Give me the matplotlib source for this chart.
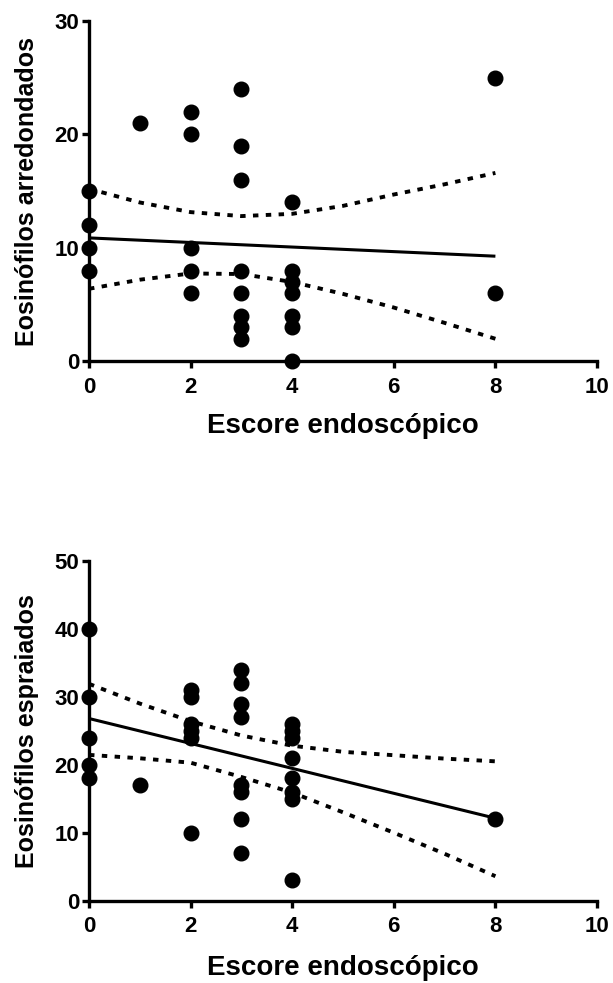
import matplotlib
matplotlib.use("Agg")
import matplotlib.pyplot as plt

plt.rcParams["font.family"] = ["Liberation Sans", "DejaVu Sans"]
plt.rcParams["font.weight"] = "bold"

# --- painel superior: eosinófilos arredondados ---
top_x = [0, 0, 0, 0,
         1,
         2, 2, 2, 2, 2,
         3, 3, 3, 3, 3, 3, 3, 3,
         4, 4, 4, 4, 4, 4, 4,
         8, 8]
top_y = [15, 12, 10, 8,
         21,
         22, 20, 10, 8, 6,
         24, 19, 16, 8, 6, 4, 3, 2,
         14, 8, 7, 6, 4, 3, 0,
         25, 6]
top_fit_x = [0, 8]
top_fit_y = [10.88, 9.27]
band_x = [0, 1, 2, 3, 4, 5, 6, 7, 8]
top_hi = [15.2, 14.0, 13.15, 12.8, 13.0, 13.7, 14.7, 15.6, 16.6]
top_lo = [6.4, 7.2, 7.75, 7.7, 7.0, 5.95, 4.75, 3.4, 2.0]

# --- painel inferior: eosinófilos espraiados ---
bot_x = [0, 0, 0, 0, 0,
         1,
         2, 2, 2, 2, 2, 2,
         3, 3, 3, 3, 3, 3, 3, 3,
         4, 4, 4, 4, 4, 4, 4, 4,
         8]
bot_y = [40, 30, 24, 20, 18,
         17,
         31, 30, 26, 25, 24, 10,
         34, 32, 29, 27, 17, 16, 12, 7,
         26, 25, 24, 21, 18, 16, 15, 3,
         12]
bot_fit_x = [0, 8]
bot_fit_y = [26.8, 12.13]
bot_hi = [31.9, 29.0, 26.4, 24.3, 22.8, 21.9, 21.4, 20.9, 20.5]
bot_lo = [21.45, 20.95, 20.3, 18.2, 15.9, 13.0, 10.0, 6.9, 3.6]

XLABEL = "Escore endoscópico"


def panel(ax, xs, ys, fx, fy, hi, lo, ymax, ystep, ylabel, xlab_y):
    ax.plot(fx, fy, color="black", lw=2.2, solid_capstyle="butt", zorder=3)
    for band in (hi, lo):
        ax.plot(band_x, band, color="black", lw=2.8, linestyle=(0, (1.4, 1.9)),
                dash_capstyle="butt", zorder=3)
    ax.plot(xs, ys, "o", color="black", ms=10.5, clip_on=False, zorder=5)
    ax.set_xlim(0, 10)
    ax.set_ylim(0, ymax)
    ax.set_xticks(range(0, 11, 2))
    ax.set_yticks(range(0, ymax + 1, ystep))
    for s in ("top", "right"):
        ax.spines[s].set_visible(False)
    for s in ("left", "bottom"):
        ax.spines[s].set_linewidth(2.4)
    ax.tick_params(width=2.4, length=5, labelsize=16, direction="out")
    ax.tick_params(axis="x", pad=6)
    ax.tick_params(axis="y", pad=2)
    ax.set_xlabel(XLABEL, fontsize=20, fontweight="bold")
    ax.set_ylabel(ylabel, fontsize=18, fontweight="bold")
    ax.xaxis.set_label_coords(0.5, xlab_y)
    ax.yaxis.set_label_coords(-0.098, 0.5)


fig = plt.figure(figsize=(6.13, 9.83), dpi=100, facecolor="white")
ax1 = fig.add_axes([0.1452, 0.63225, 0.8287, 0.34669])
ax2 = fig.add_axes([0.1452, 0.08373, 0.8287, 0.34577])

panel(ax1, top_x, top_y, top_fit_x, top_fit_y, top_hi, top_lo, 30, 10,
      "Eosinófilos arredondados", -0.151)
panel(ax2, bot_x, bot_y, bot_fit_x, bot_fit_y, bot_hi, bot_lo, 50, 10,
      "Eosinófilos espraiados", -0.160)

fig.savefig("out.png", dpi=100, facecolor="white")
